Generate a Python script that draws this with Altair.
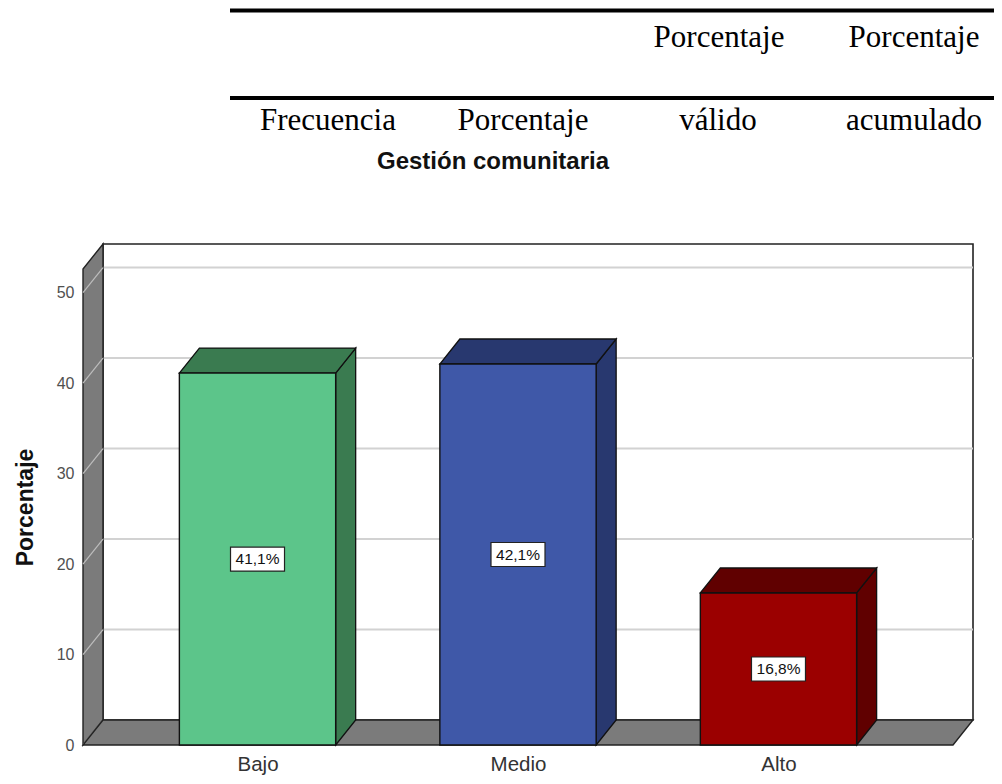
import json
import altair as alt
import pandas as pd

# ---------------- data ----------------
categories = ["Bajo", "Medio", "Alto"]
percent = [41.1, 42.1, 16.8]
value_labels = ["41,1%", "42,1%", "16,8%"]
y_ticks = [0, 10, 20, 30, 40, 50]
header_row1 = ["Porcentaje", "Porcentaje"]
header_row2 = ["Frecuencia", "Porcentaje", "válido", "acumulado"]
chart_title = "Gestión comunitaria"
y_title = "Porcentaje"

# ---------------- style / geometry ----------------
front_colors = ["#5CC58A", "#3F58A8", "#9B0000"]
shade_colors = ["#3A7B50", "#28386F", "#600000"]
wall_gray = "#7B7B7B"
X_MIN, X_MAX = -0.67, 2.67      # front plane extent (category index units)
Y_TOP = 52.6                    # top of the walls (value units)
DX, DY = 0.0768, 2.76           # 3-D depth offset
HALF = 0.3                      # half bar width
PLOT_W, PLOT_H = 870, 501

xs = alt.Scale(domain=[X_MIN, X_MAX], nice=False, zero=False)
ys = alt.Scale(domain=[0, Y_TOP + DY], nice=False, zero=False)
front_scale = alt.Scale(domain=categories, range=front_colors)
shade_scale = alt.Scale(domain=categories, range=shade_colors)

label_expr = json.dumps(categories) + "[datum.value]"
x_axis = alt.Axis(
    values=[0, 1, 2], labelExpr=label_expr, title="", domain=False, ticks=False, grid=False,
    labelFont="Liberation Sans", labelFontSize=20.5, labelColor="#333333",
    labelBaseline="middle", labelPadding=19)
y_axis = alt.Axis(
    values=y_ticks, title=y_title, domain=False, ticks=False, grid=False,
    labelFont="Liberation Sans", labelFontSize=16, labelColor="#505050", labelPadding=9,
    titleFont="Liberation Sans", titleFontSize=23, titleFontWeight="bold", titleColor="#111111",
    titleX=-58, titleY=263, titleAlign="center", titleBaseline="middle")


def X(field, **kw):
    return alt.X(field, scale=xs, axis=x_axis, title="", **kw)


def Y(field, **kw):
    return alt.Y(field, scale=ys, axis=y_axis, title=y_title, **kw)


# ---------------- tables built from the arrays ----------------
bars = pd.DataFrame({"cat": categories, "v": percent, "lab": value_labels})
bars["i"] = range(len(categories))
bars["xl"] = bars["i"] - HALF
bars["xr"] = bars["i"] + HALF
bars["zero"] = 0.0
bars["mid"] = bars["v"] / 2

side_rows, top_rows = [], []
for i, (c, v) in enumerate(zip(categories, percent)):
    xl, xr = i - HALF, i + HALF
    side_rows.append({"shade": c, "x": xr, "y": 0.0, "y2": v})
    side_rows.append({"shade": c, "x": xr + DX, "y": DY, "y2": v + DY})
    top_rows.append({"shade": c, "y": v, "x": xl, "x2": xr})
    top_rows.append({"shade": c, "y": v + DY, "x": xl + DX, "x2": xr + DX})
side_df = pd.DataFrame(side_rows)
top_df = pd.DataFrame(top_rows)

back_df = pd.DataFrame({"x": [X_MIN + DX], "x2": [X_MAX + DX], "y": [DY], "y2": [Y_TOP + DY]})
grid_df = pd.DataFrame({"g": y_ticks[1:]})
grid_df["y"] = grid_df["g"] + DY
grid_df["x"] = X_MIN + DX
grid_df["x2"] = X_MAX + DX

left_wall = pd.DataFrame({"x": [X_MIN, X_MIN + DX], "y": [0.0, DY], "y2": [Y_TOP, Y_TOP + DY]})
floor_df = pd.DataFrame({"y": [0.0, DY], "x": [X_MIN, X_MIN + DX], "x2": [X_MAX, X_MAX + DX]})

diag_rows = []
for t in y_ticks:
    diag_rows.append({"t": t, "x": X_MIN, "y": float(t)})
    diag_rows.append({"t": t, "x": X_MIN + DX, "y": t + DY})
diag_df = pd.DataFrame(diag_rows)

# ---------------- layers ----------------
back = alt.Chart(back_df).mark_rect(fill="white", stroke="#222222", strokeWidth=1.6).encode(
    x=X("x:Q"), x2="x2:Q", y=Y("y:Q"), y2="y2:Q",
)

grid = alt.Chart(grid_df).mark_rule(color="#D2D2D2", strokeWidth=2).encode(
    x=X("x:Q"), x2="x2:Q", y=Y("y:Q"),
)

lwall = alt.Chart(left_wall).mark_area(orient="vertical", color=wall_gray, stroke="#222222",
                                       strokeWidth=1.4, opacity=1).encode(
    x=X("x:Q"), y=Y("y:Q", stack=None), y2="y2:Q",
)

diag = alt.Chart(diag_df).mark_line(color="#BDBDBD", strokeWidth=1.2).encode(
    x=X("x:Q"), y=Y("y:Q"), detail="t:N",
)

floor = alt.Chart(floor_df).mark_area(orient="horizontal", color=wall_gray, stroke="#222222",
                                      strokeWidth=1.4, opacity=1).encode(
    y=Y("y:Q"), x=X("x:Q", stack=None), x2="x2:Q",
)

side = alt.Chart(side_df).mark_area(orient="vertical", stroke="#111111", strokeWidth=1.3, opacity=1).encode(
    x=X("x:Q"), y=Y("y:Q", stack=None), y2="y2:Q",
    fill=alt.Fill("shade:N", scale=shade_scale, legend=None),
    detail="shade:N",
)

top = alt.Chart(top_df).mark_area(orient="horizontal", stroke="#111111", strokeWidth=1.3, opacity=1).encode(
    y=Y("y:Q"), x=X("x:Q", stack=None), x2="x2:Q",
    fill=alt.Fill("shade:N", scale=shade_scale, legend=None),
    detail="shade:N",
)

front = alt.Chart(bars).mark_rect(stroke="#111111", strokeWidth=1.4).encode(
    x=X("xl:Q"), x2="xr:Q", y=Y("zero:Q"), y2="v:Q",
    color=alt.Color("cat:N", scale=front_scale, legend=None),
)

box = alt.Chart(bars).mark_rect(fill="white", stroke="#222222", strokeWidth=1.2,
                                xOffset=-27, x2Offset=27, yOffset=-12, y2Offset=12).encode(
    x=X("i:Q"), x2="i:Q", y=Y("mid:Q"), y2="mid:Q",
)

vtext = alt.Chart(bars).mark_text(font="Liberation Sans", fontSize=15.5, color="#111111",
                                  baseline="middle", align="center").encode(
    x=X("i:Q"), y=Y("mid:Q"), text="lab:N",
)

# header table fragment and chart title (positions relative to plot origin)
one = pd.DataFrame({"k": [0]})
hdr_layers = []
for y_px in [-233.5, -146]:
    hdr_layers.append(alt.Chart(one).mark_rule(color="black", strokeWidth=4).encode(
        x=alt.value(147), x2=alt.value(PLOT_W + 41), y=alt.value(y_px)))
row1_x = [636, 831]
row2_x = [245, 440, 635, 831]
for txt, xp in zip(header_row1, row1_x):
    hdr_layers.append(alt.Chart(one).mark_text(font="Liberation Serif", fontSize=31, color="black",
                                               align="center", baseline="alphabetic").encode(
        x=alt.value(xp), y=alt.value(-197), text=alt.value(txt)))
for txt, xp in zip(header_row2, row2_x):
    hdr_layers.append(alt.Chart(one).mark_text(font="Liberation Serif", fontSize=31, color="black",
                                               align="center", baseline="alphabetic").encode(
        x=alt.value(xp), y=alt.value(-114), text=alt.value(txt)))
hdr_layers.append(alt.Chart(one).mark_text(font="Liberation Sans", fontSize=24, fontWeight="bold",
                                           color="#111111", align="center", baseline="middle").encode(
    x=alt.value(410), y=alt.value(-82), text=alt.value(chart_title)))

chart = alt.layer(back, grid, lwall, diag, floor, side, top, front, box, vtext, *hdr_layers).resolve_scale(
    fill="independent", color="independent"
).properties(
    width=PLOT_W, height=PLOT_H,
    autosize=alt.AutoSizeParams(type="none"),
    padding={"left": 75, "top": 236, "right": 41, "bottom": 31},
    background="white",
).configure_view(stroke=None)

chart.save("out.html", embed_options={"renderer": "svg", "actions": False})
